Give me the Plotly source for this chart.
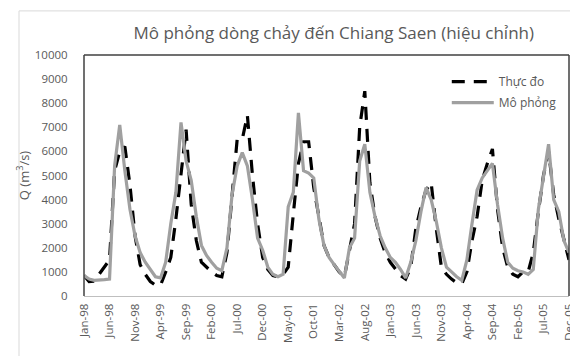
import plotly.graph_objects as go

MONTH_NAMES = ["Jan", "Feb", "Mar", "Apr", "May", "Jun", "Jul", "Aug", "Sep", "Oct", "Nov", "Dec"]
YEARS = ["98", "99", "00", "01", "02", "03", "04", "05"]
months = [f"{m}-{y}" for y in YEARS for m in MONTH_NAMES]

TICK_LABELS = ["Jan-98", "Jun-98", "Nov-98", "Apr-99", "Sep-99", "Feb-00", "Jul-00", "Dec-00",
               "May-01", "Oct-01", "Mar-02", "Aug-02", "Jan-03", "Jun-03", "Nov-03", "Apr-04",
               "Sep-04", "Feb-05", "Jul-05", "Dec-05"]
Y_TICKS = [0, 1000, 2000, 3000, 4000, 5000, 6000, 7000, 8000, 9000, 10000]
Y_TICK_TEXT = ["0", "1000", "2000", "3000", "4000", "5000", "6000", "7000", "8000", "9000", "10000"]

# Observed discharge (Thực đo), m3/s
observed = [
    850, 600, 620, 900, 1200, 1500, 5200, 6000, 6200, 4600, 2500, 1300,     # 1998
    900, 600, 450, 450, 1000, 1600, 3200, 5000, 6900, 3800, 2300, 1400,     # 1999
    1200, 1000, 850, 800, 1800, 4200, 6500, 6500, 7500, 5000, 3000, 1600,   # 2000
    1100, 850, 800, 900, 1200, 3400, 5500, 6400, 6400, 4500, 3200, 2100,    # 2001
    1600, 1300, 1000, 800, 1900, 3000, 7000, 8500, 4700, 3300, 2400, 1800,  # 2002
    1400, 1100, 850, 700, 1200, 2800, 3700, 4400, 4700, 2800, 1200, 900,    # 2003
    700, 550, 500, 1000, 2300, 3300, 4800, 5500, 6100, 3600, 2000, 1200,    # 2004
    900, 800, 1000, 1000, 1800, 3500, 5000, 6000, 4200, 3200, 2300, 1500,   # 2005
]

# Simulated discharge (Mô phỏng), m3/s
simulated = [
    850, 700, 650, 650, 680, 700, 5400, 7100, 5200, 3600, 2500, 1800,       # 1998
    1400, 1100, 800, 750, 1400, 3000, 4300, 7200, 5600, 4800, 3300, 2100,   # 1999
    1680, 1400, 1150, 1050, 2000, 4200, 5400, 5950, 5400, 4000, 2400, 1900, # 2000
    1200, 900, 800, 900, 3700, 4300, 7600, 5200, 5100, 4900, 3200, 2100,    # 2001
    1600, 1300, 1000, 750, 2000, 2400, 5600, 6300, 4300, 3300, 2500, 2000,  # 2002
    1600, 1400, 1100, 750, 1400, 2300, 3500, 4500, 4000, 3100, 2000, 1200,  # 2003
    1000, 800, 650, 1500, 3000, 4400, 4900, 5200, 5500, 3800, 2400, 1400,   # 2004
    1150, 1050, 1000, 900, 1100, 3600, 5000, 6300, 4000, 3500, 2300, 1800,  # 2005
]

FONT = "Open Sans, Liberation Sans, sans-serif"
TEXT_COLOR = "#595959"

fig = go.Figure()
fig.add_trace(go.Scatter(
    x=months, y=observed, mode="lines", name="Thực đo", legendgroup="a",
    line=dict(color="#000000", width=3.2, dash="13px,9px"),
))
fig.add_trace(go.Scatter(
    x=months, y=simulated, mode="lines", name="Mô phỏng", legendgroup="b",
    line=dict(color="#A0A0A0", width=3.2),
))

fig.update_layout(
    width=578, height=356,
    margin=dict(l=76, r=10, t=47, b=68),
    paper_bgcolor="white", plot_bgcolor="white",
    font=dict(family=FONT, color=TEXT_COLOR),
    title=dict(
        text="Mô phỏng dòng chảy đến Chiang Saen (hiệu chỉnh)",
        x=0.515, xref="paper", xanchor="center",
        y=0.93, yref="container", yanchor="middle",
        font=dict(size=17, color=TEXT_COLOR, family=FONT),
    ),
    showlegend=True,
    legend=dict(
        x=0.748, y=0.95, xanchor="left", yanchor="top",
        bgcolor="rgba(0,0,0,0)", font=dict(size=12, color=TEXT_COLOR),
        traceorder="grouped", tracegroupgap=2, itemwidth=42,
    ),
    xaxis=dict(
        type="category", range=[0, len(months) - 1],
        tickmode="array", tickvals=TICK_LABELS, ticktext=TICK_LABELS,
        tickangle=-90, tickfont=dict(size=11.5, color=TEXT_COLOR),
        showgrid=False, zeroline=False, showline=True, linecolor="#BFBFBF", linewidth=1,
        ticks="outside", ticklen=2, tickcolor="rgba(0,0,0,0)",
        ticklabeloverflow="allow",
    ),
    yaxis=dict(
        range=[0, 10000], tickmode="array", tickvals=Y_TICKS, ticktext=Y_TICK_TEXT,
        tickfont=dict(size=11.5, color=TEXT_COLOR),
        showgrid=False, zeroline=False, showline=False,
        ticks="outside", ticklen=13, tickcolor="rgba(0,0,0,0)",
        title=dict(text="Q (m<sup>3</sup>/s)", font=dict(size=13, color=TEXT_COLOR), standoff=2),
    ),
    shapes=[
        dict(type="rect", xref="paper", yref="paper", x0=-0.134, x1=1.014, y0=-0.27, y1=1.183,
             line=dict(color="#D9D9D9", width=1), layer="below"),
        dict(type="line", xref="paper", yref="paper", x0=0, x1=1, y0=1, y1=1,
             line=dict(color="#404040", width=1.5)),
        dict(type="line", xref="paper", yref="paper", x0=0, x1=0, y0=0, y1=1,
             line=dict(color="#404040", width=1.5)),
        dict(type="line", xref="paper", yref="paper", x0=1, x1=1, y0=0, y1=1,
             line=dict(color="#404040", width=1.5)),
    ],
)

fig.write_html("out.html")
